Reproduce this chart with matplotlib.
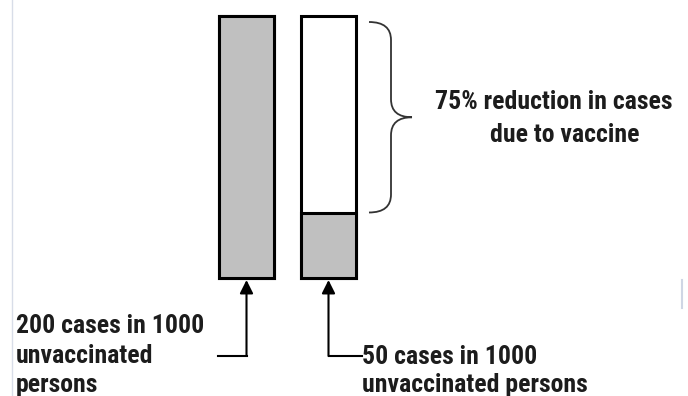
import matplotlib.pyplot as plt
from matplotlib.path import Path
from matplotlib.patches import PathPatch

# cases per 1000 persons
labels = ["unvaccinated", "vaccinated"]
total_cases = [200, 200]
remaining_cases = [200, 50]
reduction_pct = 75

GRAY = "#c0c0c0"
TXT = "#1c1c1c"
FONT = ["Roboto Condensed", "DejaVu Sans"]

fig = plt.figure(figsize=(6.88, 3.96), dpi=100)
ax = fig.add_axes([0, 0, 1, 1])

# pixel layout: value 0 at y=278px, value 200 at y=16px
px_per_unit = (278 - 16) / 200.0
ax.set_xlim(0, 688)
ax.set_ylim(-(396 - 278) / px_per_unit, 200 + 16 / px_per_unit)
ax.axis("off")


def yv(py):
    # pixel row -> data value
    return (278 - py) / px_per_unit


xs = [246.5, 328.5]
w = 55
# outline (total) and filled part (remaining)
ax.bar(xs, total_cases, width=w, color="white", edgecolor="black", linewidth=2.2, zorder=2)
ax.bar(xs, remaining_cases, width=w, color=GRAY, edgecolor="black", linewidth=2.2, zorder=3)

# curly brace beside second bar
top, bot = yv(22), remaining_cases[1]
mid = (top + bot) / 2
x0, xs_, xt = 369, 391, 412
c = 18 / px_per_unit
verts = [(x0, top), (xs_, top), (xs_, top - c),
         (xs_, mid + c),
         (xs_, mid), (xt, mid),
         (xs_, mid), (xs_, mid - c),
         (xs_, bot + c),
         (xs_, bot), (x0, bot)]
codes = [Path.MOVETO, Path.CURVE3, Path.CURVE3,
         Path.LINETO,
         Path.CURVE3, Path.CURVE3,
         Path.CURVE3, Path.CURVE3,
         Path.LINETO,
         Path.CURVE3, Path.CURVE3]
ax.add_patch(PathPatch(Path(verts, codes), facecolor="none", edgecolor="#333333", lw=1.3))

tk = dict(fontsize=18.5, fontweight="bold", color=TXT, family=FONT, va="baseline", ha="left")
ax.text(435, yv(109), f"{reduction_pct}% reduction in cases", **tk)
ax.text(490, yv(142), "due to vaccine", **tk)

# arrows to bar bottoms
y_line = yv(356)
arr = dict(arrowstyle="-|>", color="black", lw=1.5, mutation_scale=20, shrinkA=0, shrinkB=0)
ax.annotate("", xy=(xs[0], yv(280)), xytext=(xs[0], y_line), arrowprops=arr)
ax.plot([218, xs[0]], [y_line, y_line], color="black", lw=1.5)
ax.annotate("", xy=(xs[1], yv(280)), xytext=(xs[1], y_line), arrowprops=arr)
ax.plot([xs[1], 362], [y_line, y_line], color="black", lw=1.5)

for txt, py in [(f"{total_cases[0]} cases in 1000", 333), ("unvaccinated", 363), ("persons", 392)]:
    ax.text(16, yv(py), txt, **tk)
for txt, py in [(f"{remaining_cases[1]} cases in 1000", 364), ("unvaccinated persons", 392)]:
    ax.text(362, yv(py), txt, **tk)

# faint page borders
ax.plot([12, 12], [yv(0), yv(396)], color="#d8dde8", lw=1.0)
ax.plot([682, 682], [yv(280), yv(308)], color="#cfd6e4", lw=1.5)

fig.savefig("out.png", dpi=100, facecolor="white")
